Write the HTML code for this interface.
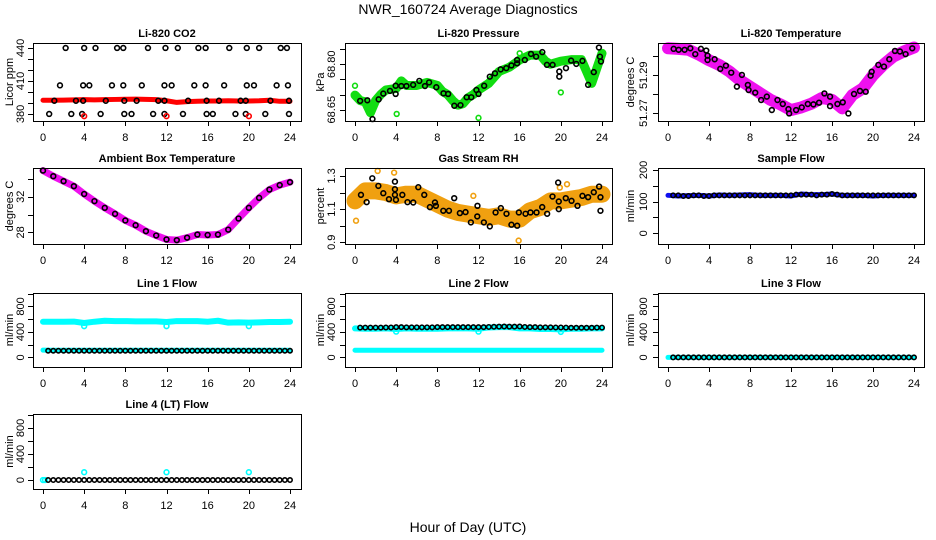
<!DOCTYPE html>
<html><head><meta charset="utf-8">
<style>
html,body{margin:0;padding:0;background:#fff;}
svg{display:block;font-family:"Liberation Sans",sans-serif;}
</style></head>
<body>
<svg id="chart" width="936" height="540" viewBox="0 0 936 540" xmlns="http://www.w3.org/2000/svg">
<rect width="936" height="540" fill="#fff"/>
<text x="468" y="14" text-anchor="middle" font-size="14">NWR_160724  Average Diagnostics</text>
<text x="468" y="532" text-anchor="middle" font-size="14">Hour of Day (UTC)</text>
</svg>
<script>
const xTicks=[0,4,8,12,16,20,24];
const halfHours=[0.5,1,1.5,2,2.5,3,3.5,4,4.5,5,5.5,6,6.5,7,7.5,8,8.5,9,9.5,10,10.5,11,11.5,12,12.5,13,13.5,14,14.5,15,15.5,16,16.5,17,17.5,18,18.5,19,19.5,20,20.5,21,21.5,22,22.5,23,23.5,24];
const hours=[0,1,2,3,4,5,6,7,8,9,10,11,12,13,14,15,16,17,18,19,20,21,22,23,24];

// CO2
const co2BandVals=[392.5,392.5,392.6,392.8,393,392.8,393,393.2,393.4,393.5,393.3,393,392,390.5,391.2,391.5,391.8,391.8,392,391.8,391.8,392,392.5,391.5,391.5];
const co2BlackHours=[2.2,4.0,5.1,7.2,7.8,10.2,11.9,13.1,15.1,15.8,18.1,19.8,21.0,23.1,23.7,1.65,3.9,4.5,6.7,7.8,9.6,11.8,12.5,14.7,15.8,17.6,19.8,20.5,22.7,23.8,1.1,3.2,3.9,6.1,7.9,9.1,11.2,11.8,14.1,15.9,17.1,19.2,19.7,22.1,23.9,0.6,2.75,3.8,5.6,7.9,8.6,10.7,11.8,13.6,15.9,16.5,18.7,19.7,21.6,23.9];
const co2BlackVals=[440,440,440,440,440,440,440,440,440,440,440,440,440,440,440,406,406,406,406,406,406,406,406,406,406,406,406,406,406,406,392,392,392,392,392,392,392,392,392,392,392,392,392,392,392,380,380,380,380,380,380,380,380,380,380,380,380,380,380,380];
const co2RedHours=[4,12,20];
const co2RedVals=[378,378,378];

// Pressure
const pressBandHours=[0,0.5,1,1.5,2,2.5,3,4,4.5,5,6,7,8,8.5,9,9.5,10,10.5,11,11.5,12,13,14,15,16,17,18,18.5,19,20,21,22,22.5,23,23.5,24];
const pressBandVals=[68.698,68.68,68.676,68.64,68.68,68.70,68.715,68.72,68.745,68.73,68.73,68.74,68.73,68.71,68.70,68.68,68.665,68.67,68.69,68.70,68.715,68.737,68.776,68.79,68.814,68.83,68.83,68.81,68.80,68.81,68.815,68.815,68.776,68.737,68.787,68.836];
const pressGreenHours=[0,4.05,12.0,20,16];
const pressGreenVals=[68.729,68.636,68.623,68.707,68.836];
const pressBlackHours=[0.5,1.2,1.7,2.3,2.75,3.4,3.95,3.95,4.5,5.0,5.65,6.25,6.8,7.2,7.9,8.6,9.05,9.65,10.25,10.85,11.3,11.8,12.0,12.55,13.1,13.6,14.15,14.7,15.2,15.75,15.75,16.5,17.1,17.6,18.2,18.65,19.2,19.85,19.85,20.5,21.0,21.5,22.1,22.65,23.2,23.8,23.9,23.7];
const pressBlackVals=[68.679,68.681,68.619,68.684,68.703,68.712,68.729,68.702,68.728,68.728,68.732,68.745,68.728,68.74,68.724,68.704,68.702,68.663,68.665,68.691,68.691,68.715,68.702,68.729,68.759,68.770,68.783,68.787,68.796,68.803,68.814,68.814,68.834,68.825,68.840,68.798,68.798,68.776,68.759,68.787,68.812,68.801,68.811,68.732,68.774,68.825,68.809,68.855];

// Li-820 temperature
const tempBandVals=[51.3043,51.304,51.3035,51.301,51.298,51.2955,51.292,51.2875,51.284,51.2805,51.277,51.2745,51.2716,51.273,51.275,51.278,51.277,51.2725,51.2796,51.283,51.29,51.2955,51.30,51.3026,51.3047];
const tempBlackHours=[0.55,1.04,1.62,2.18,2.66,3.21,3.73,3.86,3.86,4.55,5.10,5.65,6.17,6.72,7.21,7.79,7.86,8.51,9.09,9.64,10.13,10.68,11.2,11.75,11.82,12.5,13.05,13.64,14.19,14.74,15.26,15.81,15.81,16.53,17.05,17.6,18.15,18.73,19.29,19.77,19.87,20.52,21.07,21.59,22.14,22.63,23.18,23.83];
const tempBlackVals=[51.3040,51.3035,51.3035,51.3043,51.3012,51.3040,51.3031,51.3004,51.2981,51.2985,51.2934,51.2951,51.2914,51.2840,51.2902,51.2849,51.2822,51.2808,51.2769,51.2787,51.2716,51.2769,51.2748,51.2721,51.2698,51.2716,51.2730,51.2748,51.2746,51.2755,51.2804,51.2787,51.2737,51.2748,51.2757,51.2698,51.2801,51.2817,51.2813,51.2898,51.2919,51.2955,51.2946,51.2985,51.3029,51.3026,51.3012,51.3043];

// Ambient box temperature
const ambVals=[34.93,34.3,33.74,33.18,32.3,31.5,30.75,30.07,29.33,28.8,28.13,27.64,27.2,27.12,27.4,27.75,27.7,27.75,28.3,29.55,30.75,31.87,32.8,33.3,33.63];

// Gas stream RH
const rhBandVals=[1.15,1.21,1.21,1.2,1.18,1.19,1.19,1.16,1.13,1.1,1.08,1.07,1.06,1.05,1.06,1.04,1.04,1.09,1.11,1.15,1.15,1.16,1.17,1.19,1.19];
const rhOrangeHours=[0.1,2.2,3.8,11.5,15.9,19.9,20.6];
const rhOrangeVals=[1.03,1.33,1.32,1.18,0.91,1.23,1.25];
const rhBlackHours=[0.58,1.13,1.68,2.27,2.75,3.3,3.88,3.88,3.88,3.98,4.6,5.1,5.66,6.15,6.73,7.28,7.77,7.86,8.58,9.13,9.64,10.19,10.74,11.26,11.88,11.9,12.52,13.1,13.66,14.17,14.72,15.2,15.76,15.92,16.57,17.05,17.64,18.19,18.67,19.19,19.74,19.8,19.8,20.48,21.04,21.62,22.1,22.65,23.2,23.72,23.85,23.85];
const rhBlackVals=[1.186,1.142,1.286,1.24,1.196,1.16,1.266,1.22,1.186,1.156,1.186,1.142,1.14,1.232,1.186,1.112,1.14,1.12,1.09,1.09,1.166,1.076,1.082,1.02,1.056,1.12,1.02,0.996,1.08,1.106,1.072,1.006,1.0,1.08,1.072,1.08,1.08,1.112,1.072,1.176,1.26,1.146,1.1,1.166,1.15,1.12,1.18,1.172,1.202,1.236,1.172,1.09];

// Flows
const sampleBlueVals=[120,118,119,120,118,121,120,121,122,120,120,120,118,124,122,122,124,120,120,120,118,120,120,120,120];
const sampleBlackVals=[120,120,118,118,120,120,118,118,120,120,120,120,120,120,120,120,120,120,120,120,120,120,120,120,122,122,122,122,120,122,122,124,122,120,120,120,120,120,120,120,120,120,120,120,120,120,120,120];
const line1UpperVals=[560,560,560,562,540,560,575,570,570,565,565,565,555,570,570,570,560,575,545,550,545,550,555,555,560];
const line1DipHours=[4,12,20];
const line1DipVals=[490,490,490];
const line1LowerVals=[115,112,112,112,112,112,112,112,112,112,112,112,112,112,112,112,112,112,112,112,112,112,112,112,112];
const line1BlackVals=[105,105,105,105,105,105,105,105,105,105,105,105,105,105,105,105,105,105,105,105,105,105,105,105,105,105,105,105,105,105,105,105,105,105,105,105,105,105,105,105,105,105,105,105,105,105,105,105];
const line2UpperVals=[455,450,450,455,445,455,450,450,450,455,455,455,450,470,475,475,455,455,445,445,440,450,450,455,455];
const line2DipHours=[4,12,20];
const line2DipVals=[405,405,400];
const line2LowerVals=[112,112,112,112,112,112,112,112,112,112,112,112,112,112,112,112,112,112,112,112,112,112,112,112,112];
const line2BlackVals=[468,468,468,468,468,470,470,475,475,472,472,472,472,472,472,475,475,475,475,475,475,475,475,475,475,478,480,482,485,482,482,485,478,475,475,472,472,472,470,470,468,465,465,465,465,465,468,468];
const line3CyanVals=[0,0,0,0,0,0,0,0,0,0,0,0,0,0,0,0,0,0,0,0,0,0,0,0,0];
const line3BlackVals=[0,0,0,0,0,0,0,0,0,0,0,0,0,0,0,0,0,0,0,0,0,0,0,0,0,0,0,0,0,0,0,0,0,0,0,0,0,0,0,0,0,0,0,0,0,0,0,0];
const line4CyanHours=[0,0.2,4,12,20];
const line4CyanVals=[0,0,120,120,120];
const line4BlackVals=[0,0,0,0,0,0,0,0,0,0,0,0,0,0,0,0,0,0,0,0,0,0,0,0,0,0,0,0,0,0,0,0,0,0,0,0,0,0,0,0,0,0,0,0,0,0,0,0];

const NS="http://www.w3.org/2000/svg";
const svg=document.getElementById('chart');
function mk(tag,attrs,parent){const e=document.createElementNS(NS,tag);for(const k in attrs)e.setAttribute(k,attrs[k]);(parent||svg).appendChild(e);return e;}

const cols=[{x0:33,x1:301,h0:43,h24:290,lab:20,tit:9},{x0:345,x1:612,h0:355,h24:602,lab:331,tit:320},{x0:658,x1:924,h0:668,h24:914,lab:643,tit:630}];
const rows=[{y0:43,y1:121},{y0:168,y1:244},{y0:293,y1:367},{y0:414,y1:489}];

function panel(name,title,ytitle,col,row,ymin,ymax,yticks,ylabels,fmt){
  const c=cols[col],r=rows[row];
  const g=mk('g',{});
  
  
  const X=h=>c.h0+(h/24)*(c.h24-c.h0);
  const Y=v=>r.y1-(v-ymin)/(ymax-ymin)*(r.y1-r.y0);
  const plot=mk('g',{},g);
  
  
  const t=mk('text',{x:(c.x0+c.x1)/2,y:r.y0-6,'text-anchor':'middle','font-size':11,'font-weight':'bold'},g);
  
  
  t.textContent=title;
  const yt=mk('text',{x:0,y:0,'text-anchor':'middle','font-size':11,transform:`translate(${c.tit+4},${(r.y0+r.y1)/2}) rotate(-90)`},g);
  
  
  yt.textContent=ytitle;
  const ax=mk('g',{stroke:'#000','stroke-width':1,fill:'none'},g);
  
  
  mk('rect',{x:c.x0+.5,y:r.y0+.5,width:c.x1-c.x0,height:r.y1-r.y0},ax);
  mk('line',{x1:X(0),x2:X(24),y1:r.y1+.5,y2:r.y1+.5},ax);
  xTicks.forEach(h=>{
    mk('line',{x1:Math.round(X(h))+.5,x2:Math.round(X(h))+.5,y1:r.y1,y2:r.y1+5},ax);
    const l=mk('text',{x:X(h),y:r.y1+20,'text-anchor':'middle','font-size':11,fill:'#000',stroke:'none'},g);
    
    
    l.textContent=h;
  });
  yticks.forEach(v=>{
    mk('line',{x1:c.x0-5,x2:c.x0,y1:Math.round(Y(v))+.5,y2:Math.round(Y(v))+.5},ax);
  });
  ylabels.forEach(v=>{
    const l=mk('text',{x:0,y:0,'text-anchor':'middle','font-size':11,transform:`translate(${c.lab+4},${Y(v)}) rotate(-90)`},g);
    
    
    l.textContent=fmt?fmt(v):v;
  });
  return {X,Y,g:plot};
}
function band(p,name,hs,vs,color,w){
  const e=mk('polyline',{points:hs.map((h,i)=>p.X(h)+','+p.Y(vs[i])).join(' '),fill:'none',stroke:color,'stroke-width':w,'stroke-linejoin':'round','stroke-linecap':'round'},p.g);
  
  
}
function pts(p,name,hs,vs,color,r,sw){
  const gg=mk('g',{fill:'none',stroke:color,'stroke-width':sw||1.6},p.g);
  
  
  hs.forEach((h,i)=>{
    const c=mk('circle',{cx:p.X(h),cy:p.Y(vs[i]),r:r||2.4},gg);
    
    
  });
}
const range=(a,b,s)=>{const o=[];for(let v=a;v<=b+1e-9;v+=s)o.push(+v.toFixed(4));return o;};

// Panel 1
let p=panel('co2','Li-820 CO2','Licor ppm',0,0,373.6,444.5,range(380,440,10),[440,410,380]);
band(p,'co2-band',hours,co2BandVals,'#ff0000',5);
pts(p,'co2-black',co2BlackHours,co2BlackVals,'#000');
pts(p,'co2-red',co2RedHours,co2RedVals,'#ff0000');
// Panel 2
p=panel('pressure','Li-820 Pressure','kPa',1,0,68.6127,68.870,range(68.65,68.85,0.05),[68.80,68.65],v=>v.toFixed(2));
band(p,'pressure-band',pressBandHours,pressBandVals,'#11dd11',9);
pts(p,'pressure-green',pressGreenHours,pressGreenVals,'#11dd11');
pts(p,'pressure-black',pressBlackHours,pressBlackVals,'#000');
// Panel 3
p=panel('li-temp','Li-820 Temperature','degrees C',2,0,51.2658,51.3071,range(51.27,51.30,0.01),[51.29,51.27],v=>v.toFixed(2));
band(p,'li-temp-band',hours,tempBandVals,'#ee11ee',12);
pts(p,'li-temp-black',tempBlackHours,tempBlackVals,'#000');
// Panel 4
p=panel('ambient','Ambient Box Temperature','degrees C',0,1,26.69,35.22,[28,30,32,34],[28,32]);
band(p,'ambient-band',hours,ambVals,'#ee11ee',7);
pts(p,'ambient-black',hours,ambVals,'#000');
// Panel 5
p=panel('rh','Gas Stream RH','percent',1,1,0.8897,1.348,range(0.9,1.3,0.1),[1.3,1.1,0.9]);
band(p,'rh-band',hours,rhBandVals,'#f0a010',17);
pts(p,'rh-orange',rhOrangeHours,rhOrangeVals,'#f0a010');
pts(p,'rh-black',rhBlackHours,rhBlackVals,'#000');
// Panel 6
p=panel('sample-flow','Sample Flow','ml/min',2,1,-33.8,206.3,[0,50,100,150,200],[0,100,200]);
band(p,'sample-flow-band',hours,sampleBlueVals,'#1010ee',5);
pts(p,'sample-flow-black',halfHours,sampleBlackVals,'#000',2.2);
// Panel 7
p=panel('line1','Line 1 Flow','ml/min',0,2,-150,1010,range(0,1000,200),[0,400,800]);
band(p,'line1-upper',hours,line1UpperVals,'#00ffff',6);
pts(p,'line1-dips',line1DipHours,line1DipVals,'#00ffff');
band(p,'line1-lower',hours,line1LowerVals,'#00ffff',5);
pts(p,'line1-black',halfHours,line1BlackVals,'#000',2.2);
// Panel 8
p=panel('line2','Line 2 Flow','ml/min',1,2,-150,1010,range(0,1000,200),[0,400,800]);
band(p,'line2-upper',hours,line2UpperVals,'#00ffff',6);
pts(p,'line2-dips',line2DipHours,line2DipVals,'#00ffff');
band(p,'line2-lower',hours,line2LowerVals,'#00ffff',5);
pts(p,'line2-black',halfHours,line2BlackVals,'#000',2.2);
// Panel 9
p=panel('line3','Line 3 Flow','ml/min',2,2,-150,1010,range(0,1000,200),[0,400,800]);
band(p,'line3-cyan',hours,line3CyanVals,'#00ffff',5);
pts(p,'line3-black',halfHours,line3BlackVals,'#000',2.2);
// Panel 10
p=panel('line4','Line 4 (LT) Flow','ml/min',0,3,-138,1015,range(0,1000,200),[0,400,800]);
pts(p,'line4-cyan',line4CyanHours,line4CyanVals,'#00ffff');
pts(p,'line4-black',halfHours,line4BlackVals,'#000',2.2);
</script>
</body></html>
